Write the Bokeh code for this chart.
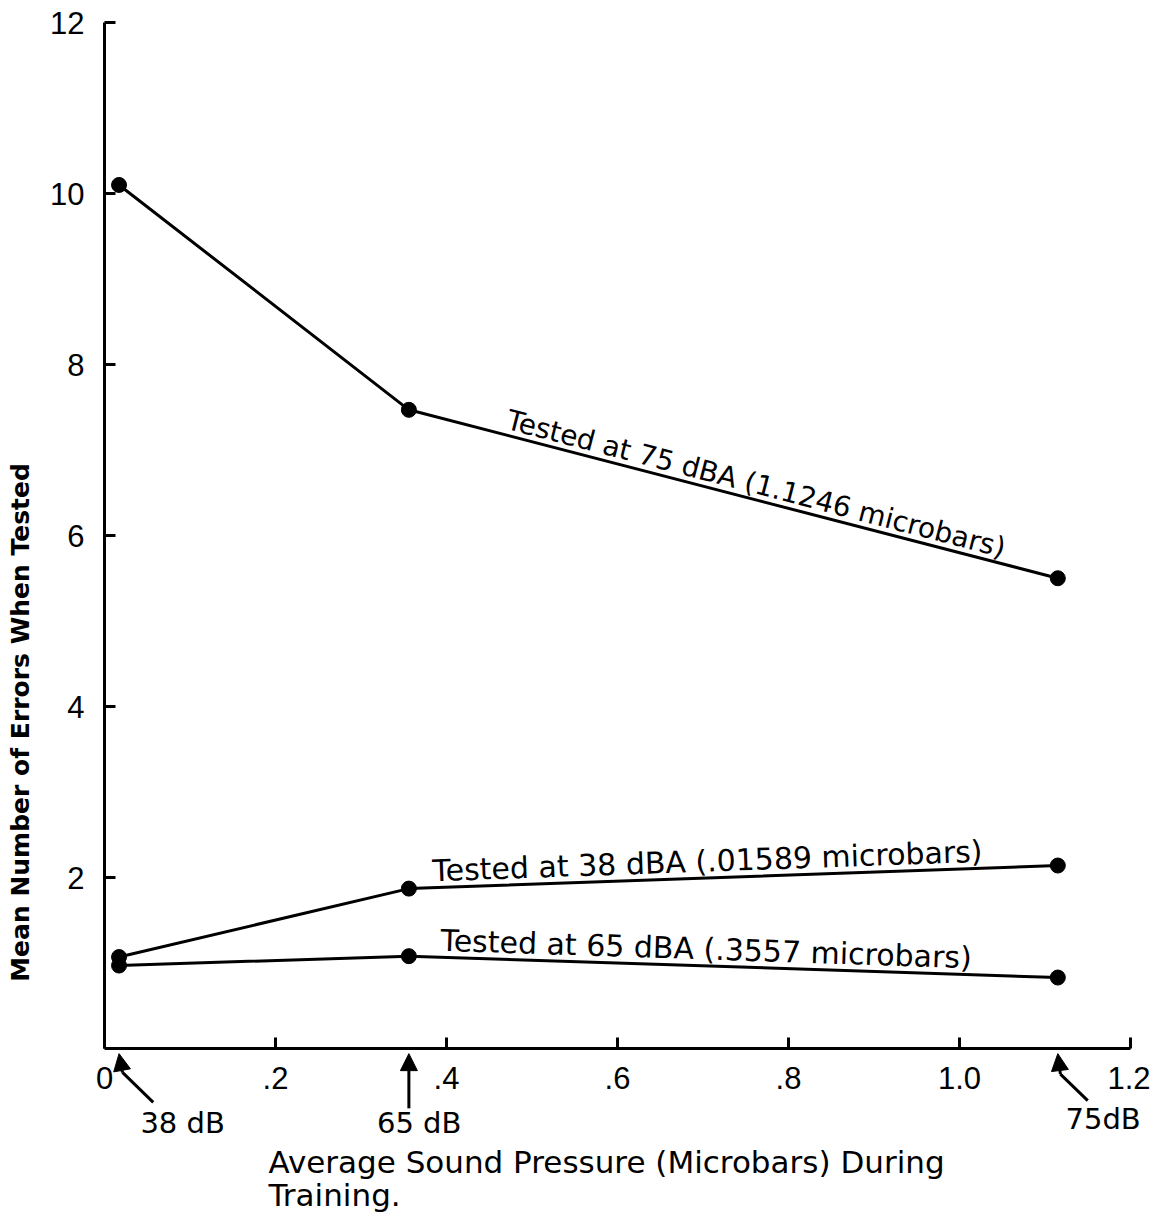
import math
from bokeh.plotting import figure
from bokeh.models import Range1d, FixedTicker, Arrow, NormalHead, ColumnDataSource
from bokeh.core.properties import value
from bokeh.embed import file_html
from bokeh.resources import INLINE

# ---------------- data ----------------
train_x = [0.017, 0.356, 1.115]          # average sound pressure during training (microbars)
train_db = ["38 dB", "65 dB", "75dB"]    # training levels
y_75 = [10.1, 7.47, 5.5]                 # tested at 75 dBA
y_38 = [1.07, 1.87, 2.14]                # tested at 38 dBA
y_65 = [0.97, 1.08, 0.83]                # tested at 65 dBA
series_labels = [
    "Tested at 75 dBA (1.1246 microbars)",
    "Tested at 38 dBA (.01589 microbars)",
    "Tested at 65 dBA (.3557 microbars)",
]
x_ticks = [0, 0.2, 0.4, 0.6, 0.8, 1.0, 1.2]
x_tick_labels = ["0", ".2", ".4", ".6", ".8", "1.0", "1.2"]
y_ticks = [2, 4, 6, 8, 10, 12]
y_tick_labels = ["2", "4", "6", "8", "10", "12"]
x_title = ["Average Sound Pressure (Microbars) During", "Training."]
y_title = "Mean Number of Errors When Tested"

# ---------------- layout ----------------
W, H = 1150, 1216
PX_X = 855.0   # pixels per x unit
PX_Y = 85.5    # pixels per y unit
X0, Y0 = 104, 1048  # canvas position of the origin
x_range = Range1d(-X0 / PX_X, (W - X0) / PX_X)
y_range = Range1d(-(H - Y0) / PX_Y, (Y0) / PX_Y)

p = figure(width=W, height=H, output_backend="svg", toolbar_location=None,
           x_range=x_range, y_range=y_range, min_border=0,
           outline_line_color=None, background_fill_color="white",
           border_fill_color="white")
p.grid.visible = False

FONT = "DejaVu Sans"
TICK_FONT = "Liberation Sans"

for ax in (p.xaxis[0], p.yaxis[0]):
    ax.fixed_location = 0
    ax.axis_line_width = 3
    ax.axis_line_color = "black"
    ax.major_tick_in = 11
    ax.major_tick_out = 0
    ax.major_tick_line_width = 3
    ax.major_tick_line_color = "black"
    ax.minor_tick_line_color = None
    ax.major_label_text_font = TICK_FONT
    ax.major_label_text_font_size = "31px"
    ax.major_label_text_color = "black"

p.xaxis[0].ticker = FixedTicker(ticks=x_ticks)
p.xaxis[0].major_label_overrides = dict(zip(x_ticks, x_tick_labels))
p.xaxis[0].bounds = (0, 1.2)
p.xaxis[0].major_label_standoff = 18
p.yaxis[0].ticker = FixedTicker(ticks=y_ticks)
p.yaxis[0].major_label_overrides = dict(zip(y_ticks, y_tick_labels))
p.yaxis[0].bounds = (0, 12)
p.yaxis[0].major_label_standoff = 20

# ---------------- series ----------------
for ys in (y_75, y_38, y_65):
    p.line(train_x, ys, line_width=3, line_color="black")
    p.scatter(train_x, ys, size=15, fill_color="black", line_color="black")

# labels riding on the last segment of each line
def seg_label(xs, ys, x_start, px_up):
    x1, x2 = xs[1], xs[2]
    y1, y2 = ys[1], ys[2]
    y_on = y1 + (y2 - y1) * (x_start - x1) / (x2 - x1)
    ang = math.atan2((y2 - y1) * PX_Y, (x2 - x1) * PX_X)
    return x_start, y_on + px_up / PX_Y, ang

lab_x, lab_y, lab_a = [], [], []
for ys, xs0, up in ((y_75, 0.4713, 16), (y_38, 0.3836, 17), (y_65, 0.3930, 17)):
    a, b, c = seg_label(train_x, ys, xs0, up)
    lab_x.append(a); lab_y.append(b); lab_a.append(c)
src = ColumnDataSource(dict(x=lab_x, y=lab_y, t=series_labels, a=lab_a,
                            fs=["28px", "30px", "30px"]))
p.text(x="x", y="y", text="t", angle="a", source=src, text_font=value(FONT),
       text_font_size="fs", text_align="left", text_baseline="alphabetic",
       text_color="black")

# ---------------- arrows pointing at training levels ----------------
tip_y = -0.06
knee = [(0.004, -0.28), (0.0, -0.45), (0.003, -0.30)]
tail = [(0.04, -0.63), (0.0, -0.70), (0.035, -0.61)]
for xv, k, t in zip(train_x, knee, tail):
    p.add_layout(Arrow(end=NormalHead(size=17, fill_color="black", line_color="black"),
                       x_start=xv + k[0], y_start=k[1], x_end=xv, y_end=tip_y,
                       line_width=3, line_color="black"))
    p.line([xv + k[0], xv + t[0]], [k[1], t[1]], line_width=3, line_color="black")

db_dx = [0.025, 0.012, 0.009]
db_align = ["left", "center", "left"]
db_y = [-0.877, -0.877, -0.82]
p.text(x=[xv + d for xv, d in zip(train_x, db_dx)], y=db_y, text=train_db,
       text_align=db_align, text_baseline="alphabetic",
       text_font=value(FONT), text_font_size="29px", text_color="black")

# ---------------- titles ----------------
p.text(x=[0.1918, 0.1918], y=[-1.322, -1.708], text=x_title, text_align="left",
       text_baseline="alphabetic", text_font=value(FONT), text_font_size="31px",
       text_color="black")
p.text(x=[-0.0982], y=[3.813], text=[y_title], angle=math.pi / 2,
       text_align="center", text_baseline="middle", text_font=value(FONT),
       text_font_size="25px", text_font_style="bold", text_color="black")

open("out.html", "w").write(file_html(p, INLINE))
